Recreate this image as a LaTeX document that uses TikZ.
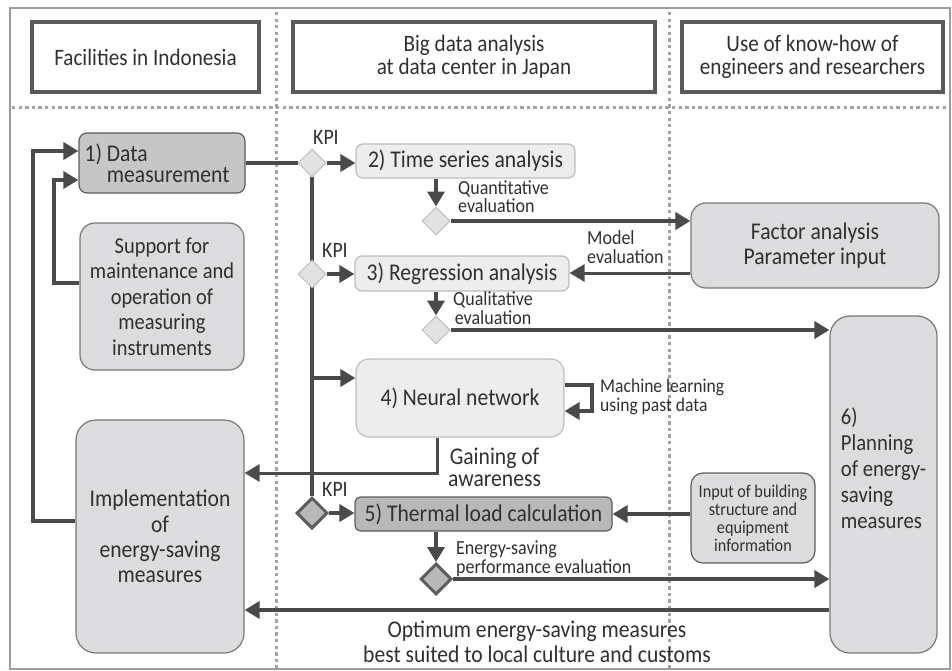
\documentclass[tikz,border=0pt]{standalone}
\usepackage{fontspec}
\setmainfont[FakeStretch=0.9]{Carlito}
\usetikzlibrary{arrows.meta,shapes.geometric}
\definecolor{ln}{HTML}{4A4A4A}
\definecolor{hdc}{HTML}{5A5A5A}
\definecolor{txt}{HTML}{303030}
\definecolor{bd}{HTML}{5C5C5C}
\definecolor{bd2}{HTML}{777777}
\definecolor{bdl}{HTML}{BDBDBD}
\definecolor{fdark}{HTML}{C6C6C6}
\definecolor{fdark2}{HTML}{B8B8B8}
\definecolor{fmid}{HTML}{DCDCDE}
\definecolor{flight}{HTML}{EDEDED}
\definecolor{fdia}{HTML}{E2E2E2}
\definecolor{dotc}{HTML}{A3A3A3}
\definecolor{frc}{HTML}{9C9C9C}
\newcommand\fsz[2]{\fontsize{#1}{#2}\selectfont\lineskiplimit=-30pt\relax}
\newcommand\lblockl[1]{\vtop{\halign{##\hfil\cr#1\crcr}}}
\newcommand\lblockc[1]{\vtop{\halign{\hfil##\hfil\cr#1\crcr}}}
\newcommand\datatext{\vtop{\halign{##\hfil&\ ##\hfil\hskip10pt\cr 1)&Data\cr&measurement\cr}}}
\pgfdeclarelayer{bg}
\pgfdeclarelayer{lines}
\pgfsetlayers{bg,lines,main}
\tikzset{
 hdr/.style={draw=hdc, line width=3.5pt, fill=white, inner sep=0pt, align=center, font=\fsz{23.5}{23}, text=txt},
 dark/.style={draw=bd, fill=fdark, line width=1.2pt, rounded corners=8pt, inner sep=0pt, font=\fsz{24}{21}, text=txt},
 mid/.style={draw=bd2, fill=fmid, line width=1.2pt, rounded corners=15pt, inner sep=0pt, align=center, font=\fsz{22.7}{25.5}, text=txt},
 light/.style={draw=bdl, fill=flight, line width=1.2pt, rounded corners=7pt, inner sep=0pt, align=center, font=\fsz{24}{23}, text=txt},
 dia/.style={diamond, draw=bdl, fill=fdia, line width=1pt, minimum width=28pt, minimum height=28pt, inner sep=0pt},
 diad/.style={diamond, draw=bd, fill=fdark2, line width=3pt, minimum width=31pt, minimum height=31pt, inner sep=0pt},
 conn/.style={draw=ln, line width=4pt},
 arr/.style={conn, -{Triangle[length=15pt,width=17pt]}},
 lbl/.style={inner sep=0pt, anchor=base west, text=txt, font=\fsz{20}{18.5}},
 sep/.style={draw=dotc, line width=3pt, dash pattern=on 3.3pt off 3.3pt},
}
\begin{document}
\begin{tikzpicture}[x=1pt,y=-1pt]
\useasboundingbox (0,0) rectangle (952,671);
\begin{pgfonlayer}{bg}
\draw[draw=frc, line width=2.5pt] (10,8) rectangle (950,669);
\draw[sep] (276,12) -- (276,668);
\draw[sep] (669,12) -- (669,668);
\draw[sep] (12,108) -- (948,108);
\end{pgfonlayer}

% headers
\node[hdr, minimum width=227pt, minimum height=70pt] (h1) at (145.5,57) {Facilities in Indonesia};
\node[hdr, minimum width=362pt, minimum height=70pt] (h2) at (474,57) {Big data analysis\\at data center in Japan};
\node[hdr, minimum width=261pt, minimum height=70pt] (h3) at (812.5,57) {Use of know-how of\\engineers and researchers};

% left column
\node[dark, minimum width=166pt, minimum height=60pt] (data) at (162,163) {\datatext};
\node[mid, minimum width=164pt, minimum height=147pt] (sup) at (162,296.5) {Support for\\maintenance and\\operation of\\measuring\\instruments};
\node[mid, rounded corners=20pt, minimum width=168pt, minimum height=233pt, font=\fsz{24}{25.3}] (impl) at (160,536.5) {Implementation\\of\\energy-saving\\measures};

% middle column
\node[light, minimum width=219pt, minimum height=34pt] (b2) at (465.5,161) {2) Time series analysis};
\node[light, minimum width=214pt, minimum height=35pt] (b3) at (462,273.5) {3) Regression analysis};
\node[light, rounded corners=13pt, minimum width=208pt, minimum height=78pt] (nn) at (460,398) {4) Neural network};
\node[dark, fill=fdark2, rounded corners=6pt, minimum width=257pt, minimum height=34pt] (b5) at (483.5,514) {5) Thermal load calculation};

% right column
\node[mid, minimum width=248pt, minimum height=85pt, font=\fsz{24}{25}] (fac) at (815,245.5) {Factor analysis\\Parameter input};
\node[mid, rounded corners=12pt, minimum width=124pt, minimum height=90pt, font=\fsz{18}{18}, draw=bd] (inp) at (753,518) {Input of building\\structure and\\equipment\\information};
\node[mid, rounded corners=20pt, minimum width=107pt, minimum height=337pt, align=left, font=\fsz{23}{26}] (plan) at (883.5,484.5) {6)\\Planning\\of energy-\\saving\\measures\\[6pt]};

% diamonds
\node[dia] (d1) at (312,163) {};
\node[dia] (d2) at (312,274) {};
\node[dia] (dq) at (436,221) {};
\node[dia] (dl) at (436,330) {};
\node[diad] (d5) at (312,513) {};
\node[diad] (de) at (436,579) {};

% labels
\node[lbl, font=\fsz{22}{20}] (k1) at (313,145) {KPI};
\node[lbl, font=\fsz{22}{20}] (k2) at (322,257) {KPI};
\node[lbl, font=\fsz{22}{20}] (k5) at (322,496) {KPI};
\node[lbl] (lq) at (458,194) {\lblockl{Quantitative\cr evaluation}};
\node[lbl] (lm) at (587,244.5) {\lblockl{Model\cr evaluation}};
\node[lbl] (lql) at (453,305.5) {\lblockc{Qualitative\cr evaluation}};
\node[lbl, font=\fsz{19.5}{18.5}] (lml) at (600,392.5) {\lblockl{Machine learning\cr using past data}};
\node[lbl, font=\fsz{24}{22}] (lg) at (448,464) {\lblockc{Gaining of\cr awareness}};
\node[lbl] (le) at (456,554.5) {\lblockl{Energy-saving\cr performance evaluation}};
\node[lbl, anchor=base, font=\fsz{24}{25}] (lo) at (537,637) {\lblockc{Optimum energy-saving measures\cr best suited to local culture and customs}};

% connectors
\coordinate (br) at (312,378);
\coordinate (my) at (0,273);
\coordinate (la) at (592,385);
\coordinate (lb) at (592,411);
\coordinate (gy) at (437,473);
\coordinate (oy) at (0,610);
\coordinate (s1) at (54,283);
\coordinate (s2) at (54,180);
\coordinate (i1) at (33,521);
\coordinate (i2) at (33,151);
\begin{pgfonlayer}{lines}
\draw[conn] (data.east) -- (d1);
\draw[arr] (d1) -- (b2.west |- d1);
\draw[conn] (d1) -- (d5);
\draw[arr] (d2) -- (b3.west |- d2);
\draw[arr] (br) -- (nn.west |- br);
\draw[arr] (d5) -- (b5.west |- d5);
\draw[arr] (b2.south -| dq) -- (dq.north);
\draw[arr] (dq) -- (fac.west |- dq);
\draw[arr, line width=3pt] (fac.west |- my) -- (b3.east |- my);
\draw[arr] (b3.south -| dl) -- (dl.north);
\draw[arr] (dl) -- (plan.west |- dl);
\draw[arr] (nn.east |- la) -- (la) -- (lb) -- (nn.east |- lb);
\draw[arr, line width=3pt] (nn.south -| gy) -- (gy) -- (impl.east |- gy);
\draw[arr, line width=3.5pt] (inp.west |- b5) -- (b5.east);
\draw[arr] (b5.south -| de) -- (de.north);
\draw[arr] (de) -- (plan.west |- de);
\draw[arr, line width=4.5pt] (plan.west |- oy) -- (impl.east |- oy);
\draw[arr] (sup.west |- s1) -- (s1) -- (s2) -- (data.west |- s2);
\draw[arr] (impl.west |- i1) -- (i1) -- (i2) -- (data.west |- i2);
\end{pgfonlayer}
\end{tikzpicture}
\end{document}
